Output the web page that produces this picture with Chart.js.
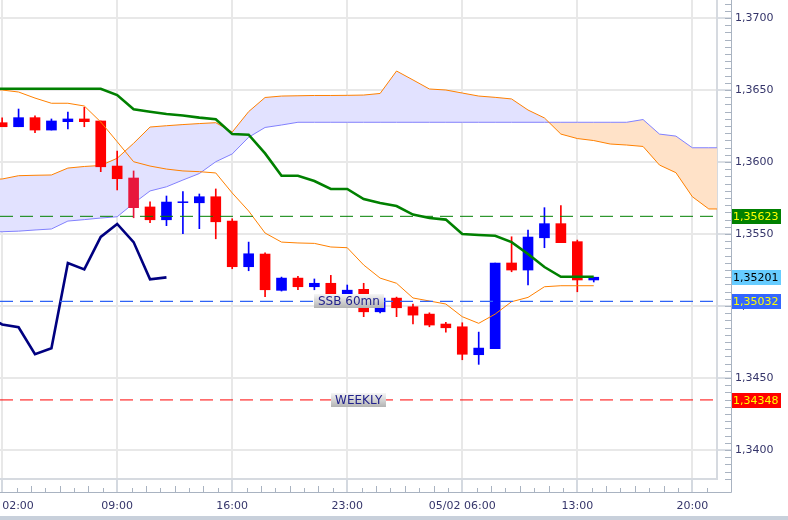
<!DOCTYPE html>
<html><head><meta charset="utf-8">
<script src="https://cdn.jsdelivr.net/npm/chart.js@4.4.1/dist/chart.umd.min.js"></script>
<style>
html,body{margin:0;padding:0;background:#c8d0db;}
#wrap{position:relative;width:788px;height:516px;background:#ffffff;}
</style></head><body>
<div id="wrap"><canvas id="c"></canvas></div>
<script>
// ---------- DATA ----------
const timeLabels = ['02:00','09:00','16:00','23:00','05/02 06:00','13:00','20:00'];
const timeLabelHours = [0,7,14,21,28,35,42];

const candleHours = [0,1,2,3,4,5,6,7,8,9,10,11,12,13,14,15,16,17,18,19,20,21,22,23,24,25,26,27,28,29,30,31,32,33,34,35,36];
const opens  = [1.36273,1.36245,1.36308,1.36222,1.36280,1.36299,1.36285,1.35972,1.35889,1.35688,1.35599,1.35718,1.35717,1.35759,1.35590,1.35273,1.35361,1.35109,1.35194,1.35134,1.35158,1.35062,1.35116,1.34960,1.35055,1.34995,1.34944,1.34875,1.34856,1.34662,1.34704,1.35299,1.35250,1.35474,1.35572,1.35447,1.35181];
const highs  = [1.36306,1.36368,1.36320,1.36299,1.36347,1.36380,1.36285,1.36076,1.35938,1.35724,1.35764,1.35794,1.35778,1.35813,1.35606,1.35444,1.35370,1.35201,1.35206,1.35188,1.35213,1.35146,1.35158,1.35055,1.35062,1.35014,1.34953,1.34887,1.34884,1.34819,1.35299,1.35481,1.35528,1.35683,1.35697,1.35458,1.35200];
const lows   = [1.36245,1.36245,1.36203,1.36222,1.36229,1.36245,1.35933,1.35806,1.35613,1.35578,1.35558,1.35502,1.35537,1.35467,1.35259,1.35245,1.35065,1.35104,1.35113,1.35113,1.35075,1.35055,1.34926,1.34953,1.34926,1.34875,1.34856,1.34819,1.34627,1.34595,1.34704,1.35238,1.35146,1.35405,1.35440,1.35099,1.35167];
const closes = [1.36245,1.36308,1.36222,1.36285,1.36299,1.36280,1.35967,1.35884,1.35683,1.35599,1.35722,1.35724,1.35759,1.35585,1.35273,1.35363,1.35113,1.35194,1.35134,1.35158,1.35083,1.35110,1.34960,1.35055,1.34988,1.34937,1.34868,1.34849,1.34665,1.34708,1.35299,1.35250,1.35479,1.35572,1.35440,1.35181,1.35200];

const lineHours = [-1,0,1,2,3,4,5,6,7,8,9,10,11,12,13,14,15,16,17,18,19,20,21,22,23,24,25,26,27,28,29,30,31,32,33,34,35,36];
const tenkan = [1.36505,1.36500,1.36486,1.36444,1.36408,1.36408,1.36389,1.36278,1.36141,1.36002,1.35972,1.35951,1.35938,1.35933,1.35924,1.35785,1.35660,1.35507,1.35444,1.35438,1.35435,1.35410,1.35405,1.35285,1.35194,1.35158,1.35056,1.35035,1.35014,1.34926,1.34880,1.34944,1.35030,1.35060,1.35134,1.35141,1.35141,1.35141];
const kijun  = [1.36509,1.36509,1.36509,1.36509,1.36509,1.36509,1.36509,1.36509,1.36465,1.36366,1.36349,1.36333,1.36323,1.36308,1.36297,1.36194,1.36190,1.36060,1.35905,1.35905,1.35868,1.35813,1.35813,1.35743,1.35715,1.35694,1.35635,1.35611,1.35600,1.35500,1.35493,1.35488,1.35444,1.35361,1.35271,1.35203,1.35203,1.35203];

const chikouHours = [-1,0,1,2,3,4,5,6,7,8,9,10];
const chikou = [1.34937,1.34872,1.34853,1.34666,1.34707,1.35298,1.35254,1.35480,1.35570,1.35444,1.35185,1.35199];

const cloudHours = [-1,0,1,2,3,4,5,6,7,8,9,10,11,12,13,14,15,16,17,18,19,20,21,22,23,24,25,26,27,28,29,30,31,32,33,34,35,36,37,38,39,40,41,42,43,44];
const senkouA = [1.35880,1.35882,1.35905,1.35908,1.35910,1.35958,1.35969,1.35976,1.36026,1.36130,1.36243,1.36252,1.36260,1.36267,1.36273,1.36208,1.36350,1.36448,1.36458,1.36460,1.36462,1.36462,1.36463,1.36465,1.36476,1.36632,1.36570,1.36507,1.36500,1.36479,1.36458,1.36449,1.36438,1.36361,1.36306,1.36194,1.36163,1.36149,1.36125,1.36118,1.36108,1.35979,1.35926,1.35759,1.35674,1.35674];
const senkouB = [1.35514,1.35516,1.35520,1.35528,1.35535,1.35590,1.35600,1.35611,1.35620,1.35713,1.35799,1.35828,1.35875,1.35920,1.36002,1.36056,1.36172,1.36240,1.36257,1.36276,1.36276,1.36276,1.36276,1.36276,1.36276,1.36276,1.36276,1.36276,1.36276,1.36276,1.36276,1.36276,1.36276,1.36276,1.36276,1.36276,1.36276,1.36276,1.36276,1.36276,1.36295,1.36194,1.36180,1.36099,1.36099,1.36099];

const levelGreen = 1.35623;
const levelSSB = 1.35032;
const levelWeekly = 1.34348;
const lastPrice = 1.35201;
const levelTexts = ['SSB 60mn', 'WEEKLY'];
const levelTextHours = [21.1, 21.7];

// ---------- SETTINGS ----------
const X_MIN = -0.13, X_MAX = 43.5;
const Y_MIN = 1.33799, Y_MAX = 1.37125;
const Y_TICK_LEN = 14, X_TICK_LEN = 13;
const UP = '#0000ff', DOWN = '#ff0000', DOWN_HI = '#e8163c';
const FONT = '"DejaVu Sans", sans-serif';
const AXIS_TXT = '#35356a';

const candleColors = candleHours.map((h, i) => closes[i] >= opens[i] ? UP : (h === 8 ? DOWN_HI : DOWN));
const xy = (hs, vs) => hs.map((h, i) => ({x: h, y: vs[i]}));
const hLine = v => [{x: X_MIN, y: v}, {x: X_MAX, y: v}];

Chart.defaults.font.family = FONT;

const overlay = {
  id: 'overlay',
  afterDraw(chart) {
    const {ctx, chartArea: ca, scales: {x, y}} = chart;
    const axisX = ca.right + Y_TICK_LEN, axisY = ca.bottom + X_TICK_LEN;
    ctx.save();
    ctx.strokeStyle = '#a9b3c1';
    ctx.lineWidth = 1;
    ctx.beginPath();
    ctx.moveTo(axisX + 0.5, 0); ctx.lineTo(axisX + 0.5, axisY + 0.5); ctx.lineTo(0, axisY + 0.5);
    for (let k = Math.ceil(Y_MIN / 0.0005); k * 0.0005 <= Y_MAX; k++) {
      const py = Math.round(y.getPixelForValue(k * 0.0005)) + 0.5;
      ctx.moveTo(axisX - 6, py); ctx.lineTo(axisX, py);
    }
    const sub = 7 / 8;
    for (let k = Math.ceil(X_MIN / sub); k * sub <= X_MAX; k++) {
      if (k % 8 === 0) continue;
      const px = Math.round(x.getPixelForValue(k * sub)) + 0.5;
      const len = k % 2 === 0 ? 6 : 4;
      ctx.moveTo(px, axisY - len); ctx.lineTo(px, axisY);
    }
    ctx.stroke();

    // text tags on level lines
    const tag = (text, h, v) => {
      const px = x.getPixelForValue(h), py = Math.round(y.getPixelForValue(v));
      ctx.font = '12px ' + FONT;
      const w = Math.round(ctx.measureText(text).width + 8), hh = 14;
      const g = ctx.createLinearGradient(0, py - hh / 2, 0, py + hh / 2);
      g.addColorStop(0, '#f6f6f6'); g.addColorStop(1, '#b2b2b2');
      ctx.fillStyle = g;
      ctx.fillRect(Math.round(px - w / 2), py - hh / 2, w, hh);
      ctx.fillStyle = '#22228c';
      ctx.textAlign = 'center'; ctx.textBaseline = 'middle';
      ctx.fillText(text, px, py + 1);
    };
    tag(levelTexts[0], levelTextHours[0], levelSSB);
    tag(levelTexts[1], levelTextHours[1], levelWeekly);

    // price badges on the axis
    const badge = (v, bg, fg) => {
      const py = Math.round(y.getPixelForValue(v));
      ctx.fillStyle = bg;
      ctx.fillRect(axisX + 1, py - 7, 49, 15);
      ctx.fillStyle = fg;
      ctx.font = '11px ' + FONT;
      ctx.textAlign = 'left'; ctx.textBaseline = 'middle';
      ctx.fillText(v.toFixed(5).replace('.', ','), axisX + 2, py + 1);
    };
    badge(levelGreen, '#008000', '#ffff00');
    badge(lastPrice, '#66ccff', '#000000');
    badge(levelSSB, '#3366ff', '#ffff00');
    badge(levelWeekly, '#ff0000', '#ffff00');
    ctx.restore();
  }
};

new Chart(document.getElementById('c'), {
  type: 'line',
  data: {
    datasets: [
      {type: 'line', data: hLine(levelWeekly), borderColor: '#ff0000', borderWidth: 1, borderDash: [13, 7], pointRadius: 0, order: 1},
      {type: 'line', data: hLine(levelSSB), borderColor: '#2f63f5', borderWidth: 1.2, borderDash: [13, 7], pointRadius: 0, order: 1},
      {type: 'line', data: hLine(levelGreen), borderColor: '#008000', borderWidth: 1, borderDash: [13, 7], pointRadius: 0, order: 1},
      {type: 'line', data: xy(lineHours, kijun), borderColor: '#008000', borderWidth: 2.6, pointRadius: 0, tension: 0, order: 2},
      {type: 'line', data: xy(lineHours, tenkan), borderColor: '#ff8000', borderWidth: 1, pointRadius: 0, tension: 0, order: 3},
      {type: 'line', data: xy(chikouHours, chikou), borderColor: '#000080', borderWidth: 2.6, pointRadius: 0, tension: 0, order: 3},
      {type: 'bar', data: candleHours.map((h, i) => ({x: h, y: [opens[i], closes[i]]})), backgroundColor: candleColors, barThickness: 10, grouped: false, borderWidth: 0, order: 4},
      {type: 'bar', data: candleHours.map((h, i) => ({x: h, y: [lows[i], highs[i]]})), backgroundColor: candleColors, barThickness: 1, grouped: false, borderWidth: 0, order: 5},
      {type: 'line', data: xy(cloudHours, senkouA), borderColor: '#ff8000', borderWidth: 1, pointRadius: 0, tension: 0, order: 6,
        fill: {target: 9, above: '#e2e2ff', below: '#ffe2c8'}},
      {type: 'line', data: xy(cloudHours, senkouB), borderColor: '#8080ff', borderWidth: 1, pointRadius: 0, tension: 0, order: 7}
    ]
  },
  options: {
    animation: false,
    responsive: true,
    maintainAspectRatio: false,
    layout: {padding: 0, autoPadding: false},
    plugins: {legend: {display: false}, tooltip: {enabled: false}, filler: {drawTime: 'beforeDatasetsDraw'}},
    scales: {
      x: {
        type: 'linear', position: 'bottom', min: X_MIN, max: X_MAX, offset: false,
        afterBuildTicks: s => { s.ticks = timeLabelHours.map(v => ({value: v})).concat([{value: X_MAX}]); },
        ticks: {align: 'inner', autoSkip: false, maxRotation: 0, padding: 8, color: AXIS_TXT, font: {size: 11},
          callback: (v, i) => timeLabels[i] || ''},
        grid: {offset: false, lineWidth: 2, tickLength: X_TICK_LEN, tickWidth: 1,
          color: c => c.index === timeLabelHours.length ? 'rgba(0,0,0,0)' : '#e8e8e8',
          tickColor: c => c.index === timeLabelHours.length ? 'rgba(0,0,0,0)' : '#a9b3c1'},
        border: {color: '#d6dae0', width: 2},
        afterFit: s => { s.height = 37; s.paddingLeft = 0; s.paddingRight = 0; }
      },
      y: {
        type: 'linear', position: 'right', min: Y_MIN, max: Y_MAX,
        ticks: {stepSize: 0.005, includeBounds: false, padding: 4, color: AXIS_TXT, font: {size: 11},
          callback: v => v.toFixed(4).replace('.', ',')},
        grid: {lineWidth: 2, color: '#e8e8e8', tickLength: Y_TICK_LEN, tickWidth: 1, tickColor: '#b5bdc8'},
        border: {color: '#d6dae0', width: 2},
        afterFit: s => { s.width = 71; s.paddingTop = 0; s.paddingBottom = 0; }
      }
    }
  },
  plugins: [overlay]
});
</script>
</body></html>
